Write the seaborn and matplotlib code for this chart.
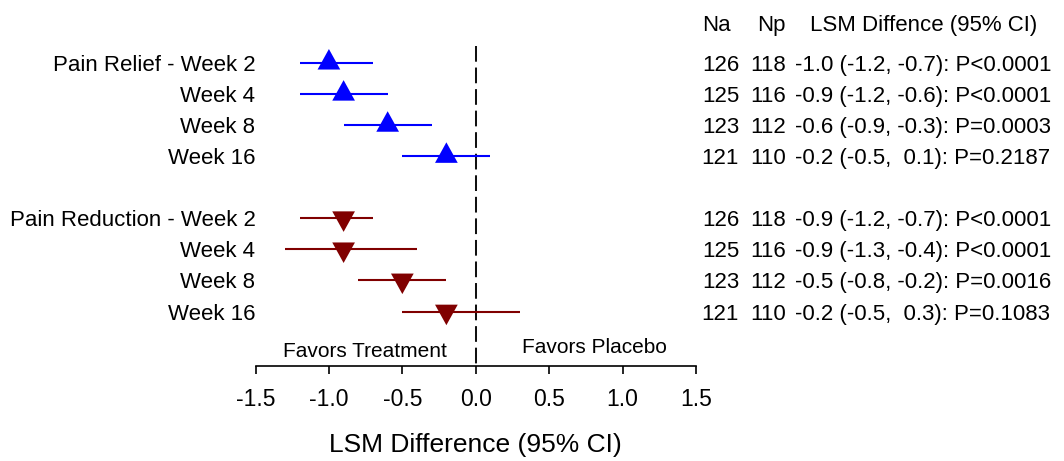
import numpy as np
import pandas as pd
import matplotlib
matplotlib.use("Agg")
import matplotlib.pyplot as plt
from matplotlib.path import Path
from matplotlib.transforms import blended_transform_factory
import seaborn as sns

# ---------------- data ----------------
outcomes = ["Pain Relief", "Pain Reduction"]
weeks = ["Week 2", "Week 4", "Week 8", "Week 16"]

relief_est = [-1.0, -0.9, -0.6, -0.2]
relief_lo = [-1.2, -1.2, -0.9, -0.5]
relief_hi = [-0.7, -0.6, -0.3, 0.1]
relief_na = [126, 125, 123, 121]
relief_np = [118, 116, 112, 110]
relief_stats = ["-1.0 (-1.2, -0.7): P<0.0001",
                "-0.9 (-1.2, -0.6): P<0.0001",
                "-0.6 (-0.9, -0.3): P=0.0003",
                "-0.2 (-0.5,  0.1): P=0.2187"]

reduction_est = [-0.9, -0.9, -0.5, -0.2]
reduction_lo = [-1.2, -1.3, -0.8, -0.5]
reduction_hi = [-0.7, -0.4, -0.2, 0.3]
reduction_na = [126, 125, 123, 121]
reduction_np = [118, 116, 112, 110]
reduction_stats = ["-0.9 (-1.2, -0.7): P<0.0001",
                   "-0.9 (-1.3, -0.4): P<0.0001",
                   "-0.5 (-0.8, -0.2): P=0.0016",
                   "-0.2 (-0.5,  0.3): P=0.1083"]

x_ticks = [-1.5, -1.0, -0.5, 0.0, 0.5, 1.0, 1.5]
header_cols = ["Na", "Np", "LSM Diffence (95% CI)"]
x_label = "LSM Difference (95% CI)"
favors_left = "Favors Treatment"
favors_right = "Favors Placebo"

# ---------------- table ----------------
rows = []
n_w = len(weeks)
for gi, (name, est, lo, hi, na, np_, st) in enumerate([
        (outcomes[0], relief_est, relief_lo, relief_hi, relief_na, relief_np, relief_stats),
        (outcomes[1], reduction_est, reduction_lo, reduction_hi, reduction_na, reduction_np, reduction_stats)]):
    for wi in range(n_w):
        label = f"{name} - {weeks[wi]}" if wi == 0 else weeks[wi]
        rows.append(dict(group=name, label=label, pos=gi * (n_w + 1) + wi,
                         est=est[wi], lo=lo[wi], hi=hi[wi],
                         na=na[wi], np=np_[wi], stat=st[wi]))
df = pd.DataFrame(rows)

# ---------------- style ----------------
sns.set_style("white")
plt.rcParams['font.family'] = ['Liberation Sans', 'DejaVu Sans']
plt.rcParams['text.color'] = 'black'
plt.rcParams['axes.labelcolor'] = 'black'
plt.rcParams['xtick.color'] = 'black'
plt.rcParams['ytick.color'] = 'black'
FS = 16

W, H = 1064, 461
fig = plt.figure(figsize=(W / 100, H / 100), dpi=100)
ax_left, ax_right, ax_top, ax_bot = 255.5, 696.0, 46.0, 365.5
ax = fig.add_axes([ax_left / W, (H - ax_bot) / H, (ax_right - ax_left) / W, (ax_bot - ax_top) / H])

colors = {outcomes[0]: "#0000ff", outcomes[1]: "#800000"}
up = Path([(0, 1), (-0.83, -0.5), (0.83, -0.5), (0, 1)],
          [Path.MOVETO, Path.LINETO, Path.LINETO, Path.CLOSEPOLY])
down = Path([(0, -1), (-0.83, 0.5), (0.83, 0.5), (0, -1)],
            [Path.MOVETO, Path.LINETO, Path.LINETO, Path.CLOSEPOLY])
markers = {outcomes[0]: up, outcomes[1]: down}

# CI lines
for g, sub in df.groupby("group"):
    ax.hlines(sub["pos"], sub["lo"], sub["hi"], color=colors[g], lw=1.5, zorder=2)

sns.scatterplot(data=df, x="est", y="pos", hue="group", style="group",
                palette=colors, markers=markers, s=388, linewidth=0,
                legend=False, ax=ax, zorder=3)

# limits (row 0 at 62.7 px, step 31.1 px)
y_top = (ax_top - 62.7) / 31.1
y_bot = (ax_bot - 62.7) / 31.1
ax.set_xlim(-1.5, 1.5)
ax.set_ylim(y_bot, y_top)

# reference line
ax.vlines(0, y_top, y_bot, color="#111111", lw=1.45,
          linestyles=[(0, (7.8, 2.9))], zorder=1)

# axes styling
for s in ["left", "top", "right"]:
    ax.spines[s].set_visible(False)
ax.spines["bottom"].set_linewidth(1.2)
ax.spines["bottom"].set_color("black")
ax.set_xticks(x_ticks)
ax.set_xticklabels([f"{v:.1f}" for v in x_ticks], fontsize=16.5)
ax.tick_params(axis="x", bottom=True, direction="out", length=6, width=1.2, pad=10, colors="black")
ax.set_yticks(df["pos"])
ax.set_yticklabels(df["label"], fontsize=FS)
ax.tick_params(axis="y", left=False, length=0, pad=0)
ax.set_xlabel(x_label, fontsize=19)
ax.xaxis.set_label_coords(0.5, -0.212)
ax.set_ylabel("")

ax.text(-0.754, 9.45, favors_left, ha="center", va="baseline", fontsize=15)
ax.text(0.806, 9.34, favors_right, ha="center", va="baseline", fontsize=15)

# right-hand table
tr = blended_transform_factory(fig.transFigure, ax.transData)
hdr_y = (23 - 62.7) / 31.1
for txt, xp in zip(header_cols, [702.3, 756.7, 810]):
    ax.text(xp / W, hdr_y, txt, transform=tr, ha="left", va="center_baseline", fontsize=FS)
for _, r in df.iterrows():
    ax.text(739 / W, r["pos"], str(r["na"]), transform=tr, ha="right", va="center_baseline", fontsize=FS)
    ax.text(786 / W, r["pos"], str(r["np"]), transform=tr, ha="right", va="center_baseline", fontsize=FS)
    ax.text(795 / W, r["pos"], r["stat"], transform=tr, ha="left", va="center_baseline", fontsize=FS)

fig.savefig("out.png", dpi=100)
